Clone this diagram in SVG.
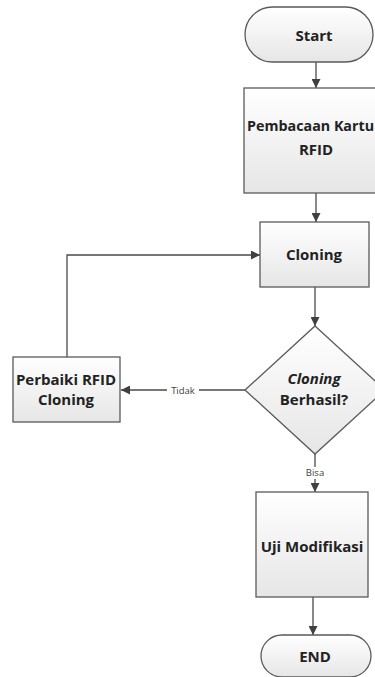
<svg xmlns="http://www.w3.org/2000/svg" width="375" height="677" viewBox="0 0 375 677">
<style>
.shape{fill:url(#g);stroke:#5a5a5a;stroke-width:1.3}
.t{font-family:"Open Sans","Noto Sans",sans-serif;font-weight:bold;font-size:15px;fill:#222222;text-anchor:middle}
.lbl{font-family:"Open Sans","Noto Sans",sans-serif;font-size:9.5px;fill:#404040;text-anchor:middle}
.c{fill:none;stroke:#4a4a4a;stroke-width:1.3}
</style>
<defs>
<linearGradient id="g" x1="0" y1="0" x2="0" y2="1">
<stop offset="0" stop-color="#ffffff"/>
<stop offset="1" stop-color="#e6e6e6"/>
</linearGradient>
<marker id="a" viewBox="0 0 10 10" refX="10" refY="5" markerWidth="9" markerHeight="9" markerUnits="userSpaceOnUse" orient="auto">
<path d="M0,0 L10,5 L0,10 z" fill="#404040"/>
</marker>
</defs>
<rect width="375" height="677" fill="#ffffff"/>
<g id="connectors">
<line class="c" x1="316" y1="62" x2="316" y2="88" marker-end="url(#a)"/>
<line class="c" x1="316" y1="193" x2="316" y2="222" marker-end="url(#a)"/>
<line class="c" x1="315" y1="287" x2="315" y2="326" marker-end="url(#a)"/>
<line class="c" x1="245" y1="390" x2="121" y2="390" marker-end="url(#a)"/>
<polyline class="c" points="67,357 67,255 260,255" marker-end="url(#a)"/>
<line class="c" x1="315" y1="454" x2="315" y2="492" marker-end="url(#a)"/>
<line class="c" x1="313" y1="597" x2="313" y2="635" marker-end="url(#a)"/>
<rect x="167" y="384" width="32" height="12" fill="#ffffff"/>
<text class="lbl" x="183" y="393.5">Tidak</text>
<rect x="303" y="467" width="24" height="12" fill="#ffffff"/>
<text class="lbl" x="315" y="476">Bisa</text>
</g>
<g id="start">
<rect class="shape" x="245" y="7" width="128" height="55" rx="27.5"/>
<text class="t" x="314" y="41">Start</text>
</g>
<g id="pembacaan">
<rect class="shape" x="244" y="88" width="144" height="105"/>
<text class="t" x="247" y="131" style="text-anchor:start;font-size:14.3px">Pembacaan Kartu</text>
<text class="t" x="316" y="155">RFID</text>
</g>
<g id="cloning">
<rect class="shape" x="260" y="222" width="109" height="65"/>
<text class="t" x="314" y="260">Cloning</text>
</g>
<g id="berhasil">
<polygon class="shape" points="315,326 385,390 315,454 245,390"/>
<text class="t" x="314" y="384" font-style="italic">Cloning</text>
<text class="t" x="314" y="405">Berhasil?</text>
</g>
<g id="perbaiki">
<rect class="shape" x="13" y="357" width="107" height="65"/>
<text class="t" x="66" y="385">Perbaiki RFID</text>
<text class="t" x="66" y="405">Cloning</text>
</g>
<g id="uji">
<rect class="shape" x="256" y="492" width="112" height="105"/>
<text class="t" x="312" y="552">Uji Modifikasi</text>
</g>
<g id="end">
<rect class="shape" x="261" y="635" width="110" height="42" rx="21"/>
<text class="t" x="315" y="662">END</text>
</g>
</svg>
